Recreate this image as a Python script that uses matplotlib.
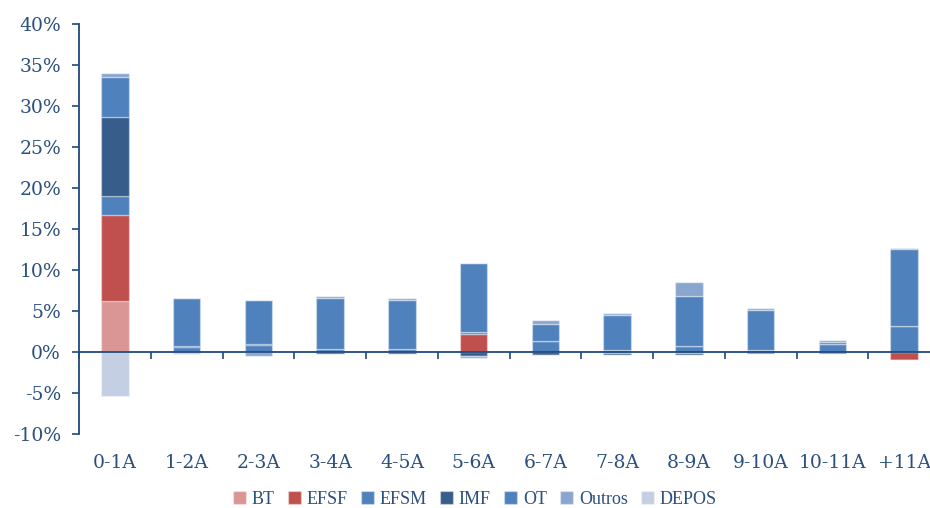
import numpy as np
import matplotlib.pyplot as plt
from matplotlib.ticker import FuncFormatter

categories = ['0-1A', '1-2A', '2-3A', '3-4A', '4-5A', '5-6A', '6-7A', '7-8A', '8-9A', '9-10A', '10-11A', '+11A']

# values in % (positive and negative parts stack separately, like Excel)
bt     = [6.25, 0, 0, 0, 0, 0, 0, 0, 0, 0, 0, 0]
efsf   = [10.45, 0, 0, 0, 0, 2.2, 0, -0.1, -0.05, -0.2, -0.25, -0.9]
efsm   = [2.4, 0.6, 0.85, 0.35, 0.35, 0.3, 1.4, 0.25, 0.8, 0.25, 1.0, 3.25]
imf    = [9.6, 0.15, 0.15, -0.25, -0.25, -0.5, -0.3, -0.2, -0.25, 0, 0, 0]
ot     = [4.9, 5.85, 5.4, 6.3, 6.0, 8.35, 2.0, 4.25, 6.1, 4.85, 0.2, 9.3]
outros = [0.45, 0.05, -0.5, 0.25, 0.3, -0.15, 0.55, 0.25, 1.65, 0.25, 0.25, 0.2]
depos  = [-5.3, -0.25, 0, 0, 0, 0, 0, 0, 0, 0, 0, 0]

series = [('BT', bt, '#d99694'), ('EFSF', efsf, '#c0504d'), ('EFSM', efsm, '#4f81bd'),
          ('IMF', imf, '#375d8a'), ('OT', ot, '#4f81bd'), ('Outros', outros, '#8aa6cf'),
          ('DEPOS', depos, '#c5cfe3')]

navy = '#1f497d'
txt = '#2b4f7e'
plt.rcParams['font.family'] = ['DejaVu Serif']

fig = plt.figure(figsize=(9.3, 5.08), dpi=100)
ax = fig.add_axes([79 / 930, (508 - 434.3) / 508, 1 - 79 / 930, (434.3 - 24) / 508])

x = np.arange(len(categories))
pos_base = np.zeros(len(categories))
neg_base = np.zeros(len(categories))
for name, vals, col in series:
    v = np.array(vals, dtype=float)
    p = np.where(v > 0, v, 0)
    n = np.where(v < 0, v, 0)
    ax.bar(x, p, 0.385, bottom=pos_base, color=col, edgecolor=(1, 1, 1, 0.35), linewidth=1, label=name)
    ax.bar(x, n, 0.385, bottom=neg_base, color=col, edgecolor=(1, 1, 1, 0.35), linewidth=1)
    pos_base += p
    neg_base += n

ax.set_xlim(-0.5, 11.36)
ax.set_ylim(-10, 40)
ax.set_yticks(np.arange(-10, 41, 5))
ax.yaxis.set_major_formatter(FuncFormatter(lambda v, _: f'{v:.0f}%'))

for s in ['top', 'right']:
    ax.spines[s].set_visible(False)
ax.spines['bottom'].set_position(('data', 0))
for s in ['left', 'bottom']:
    ax.spines[s].set_color(navy)
    ax.spines[s].set_linewidth(1.3)

ax.set_xticks(x)
ax.set_xticklabels(categories)
ax.set_xticks(np.arange(-0.5, 11, 1), minor=True)
ax.tick_params(axis='x', which='major', length=0, pad=73, labelsize=13.5, labelcolor=txt)
ax.tick_params(axis='x', which='minor', length=5, width=1.2, color=navy, direction='out')
ax.tick_params(axis='y', length=5, width=1.2, color=navy, labelsize=13.5, labelcolor=txt, pad=8)

leg = fig.legend(loc='center', bbox_to_anchor=(475 / 930, 1 - 499 / 508), ncol=7, frameon=False,
                 prop={'family': 'Liberation Serif', 'size': 13}, handlelength=0.72, handleheight=0.72,
                 handletextpad=0.3, columnspacing=0.75)
for t in leg.get_texts():
    t.set_color(txt)

fig.savefig('out.png', dpi=100)
